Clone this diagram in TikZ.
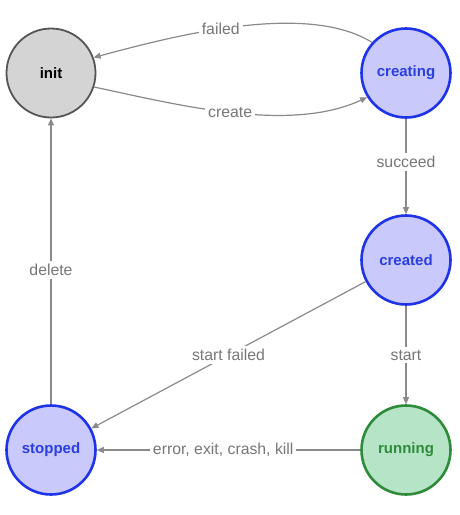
\documentclass[tikz,border=0pt]{standalone}
\usepackage{fontspec}
\setmainfont{Liberation Sans}
\usetikzlibrary{arrows.meta}

\definecolor{initfill}{HTML}{D4D4D4}
\definecolor{initline}{HTML}{555555}
\definecolor{bluefill}{HTML}{C9C9FB}
\definecolor{blueline}{HTML}{1F33E8}
\definecolor{bluetext}{HTML}{2B3EE0}
\definecolor{greenfill}{HTML}{B6E4C6}
\definecolor{greenline}{HTML}{2E8B3A}
\definecolor{edgegray}{HTML}{8A8A8A}
\definecolor{labelgray}{HTML}{777777}

\begin{document}
\begin{tikzpicture}[
        x=1pt,y=-1pt,
        state/.style={draw,circle,minimum size=89pt,inner sep=0pt,line width=2.6pt,
                      font=\fontsize{15}{18}\selectfont\bfseries},
        idle/.style={state,fill=initfill,draw=initline,line width=1.8pt,text=black},
        busy/.style={state,fill=bluefill,draw=blueline,text=bluetext},
        live/.style={state,fill=greenfill,draw=greenline,text=greenline},
        edge/.style={draw=edgegray,line width=1.2pt,-{Triangle[length=7pt,width=6pt]}},
        tag/.style={fill=white,text=labelgray,inner sep=3pt,font=\fontsize{15.8}{18}\selectfont}]

    \useasboundingbox (0,0) rectangle (459,515);

    % states
    \node[idle] (init)     at (51,73)  {init};
    \node[busy] (creating) at (406,73) {creating};
    \node[busy] (created)  at (406,260) {created};
    \node[live] (running)  at (406,450) {running};
    \node[busy] (stopped)  at (51,450) {stopped};

    % transitions
    \draw[edge] (creating.138) to[out=148,in=15,looseness=.72]
        node[tag,pos=.55] {failed} (init.20);
    \draw[edge] (init.-18) to[out=-12,in=205,looseness=.8]
        node[tag,pos=.49] {create} (creating.212);
    \draw[edge] (creating) -- node[tag,pos=.45] {succeed} (created);
    \draw[edge] (created) -- node[tag,pos=.5] {start} (running);
    \draw[edge] (created) -- node[tag,pos=.5] {start failed} (stopped);
    \draw[edge] (running) -- node[tag,pos=.52] {error, exit, crash, kill} (stopped);
    \draw[edge] (stopped) -- node[tag,pos=.47] {delete} (init);
\end{tikzpicture}
\end{document}
